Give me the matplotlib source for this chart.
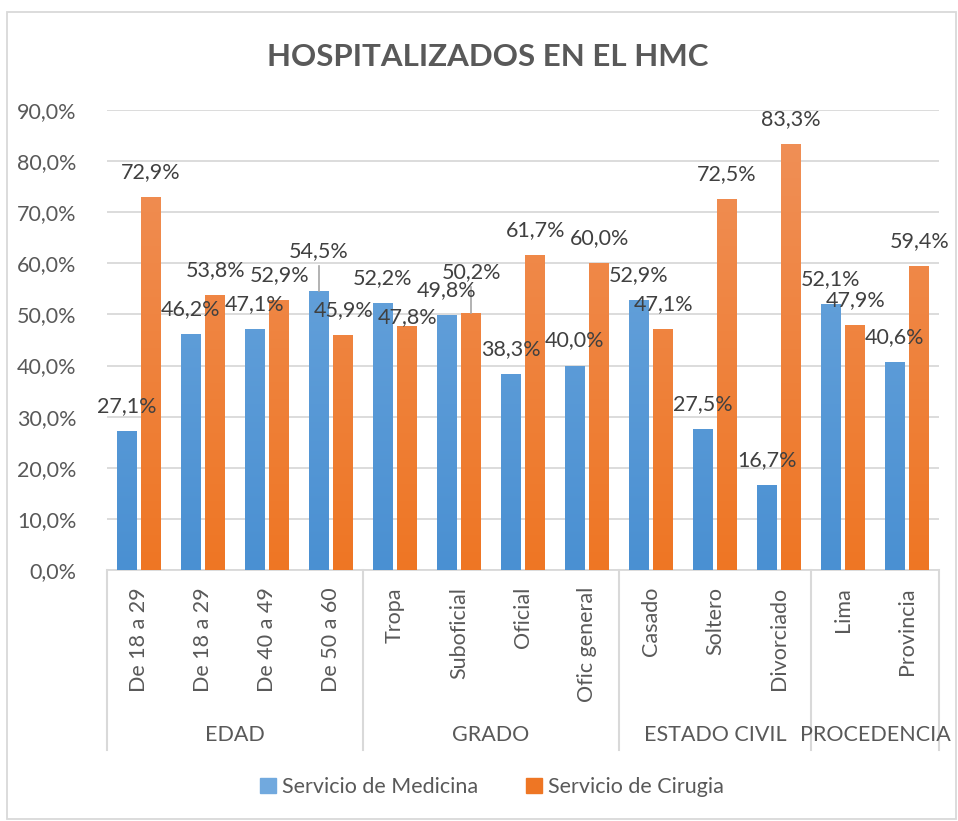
import numpy as np
import matplotlib
matplotlib.use("Agg")
import matplotlib.pyplot as plt
from matplotlib.colors import LinearSegmentedColormap
from matplotlib.lines import Line2D
from matplotlib.patches import Rectangle
import matplotlib.transforms as mtrans

plt.rcParams['font.family'] = ['Lato', 'DejaVu Sans']

# datos
categorias = ['De 18 a 29', 'De 18 a 29', 'De 40 a 49', 'De 50 a 60',
              'Tropa', 'Suboficial', 'Oficial', 'Ofic general',
              'Casado', 'Soltero', 'Divorciado',
              'Lima', 'Provincia']
grupos = ['EDAD', 'GRADO', 'ESTADO CIVIL', 'PROCEDENCIA']
tam_grupos = [4, 4, 3, 2]
medicina = [27.1, 46.2, 47.1, 54.5, 52.2, 49.8, 38.3, 40.0, 52.9, 27.5, 16.7, 52.1, 40.6]
cirugia = [72.9, 53.8, 52.9, 45.9, 47.8, 50.2, 61.7, 60.0, 47.1, 72.5, 83.3, 47.9, 59.4]
series = ['Servicio de Medicina', 'Servicio de Cirugia']
yticks = [0, 10, 20, 30, 40, 50, 60, 70, 80, 90]

# desplazamientos especiales de etiquetas (serie, indice) -> puntos
ajustes = {(0, 3): 29, (1, 5): 30, (1, 4): 6}
con_guia = {(0, 3), (1, 5)}

W, H = 958, 821
fig = plt.figure(figsize=(W / 100, H / 100), dpi=100)
ax = fig.add_axes([107 / W, 1 - 570 / H, 832 / W, 460 / H])

gris_txt = '#595959'
gris_lbl = '#404040'
gris_linea = '#D9D9D9'

x = np.arange(len(categorias))
ancho = 0.31
desp = 0.19
colores = [('#4A90D2', '#71A9DE'), ('#EE7624', '#F0915A')]

ax.set_xlim(-0.5, len(categorias) - 0.5)
ax.set_ylim(0, 90)

for s, (vals, (c_bajo, c_alto)) in enumerate(zip([medicina, cirugia], colores)):
    pos = x + (desp if s else -desp)
    bars = ax.bar(pos, vals, ancho, color=c_bajo, zorder=3, label=series[s])
    cmap = LinearSegmentedColormap.from_list('g%d' % s, [c_bajo, c_alto])
    grad = np.linspace(0, 1, 256).reshape(-1, 1)
    for b in bars:
        im = ax.imshow(grad, cmap=cmap, origin='lower', aspect='auto',
                       extent=(b.get_x(), b.get_x() + b.get_width(), 0, 90),
                       zorder=3.5)
        im.set_clip_path(b)
    for i, (px, v) in enumerate(zip(pos, vals)):
        off = ajustes.get((s, i), 18)
        ax.text(px, v, f'{v:.1f}%'.replace('.', ','), ha='center', va='center',
                fontsize=15.5, color=gris_lbl, zorder=5,
                transform=ax.transData + mtrans.ScaledTranslation(0, off / 72, fig.dpi_scale_trans))
        if (s, i) in con_guia:
            ax.plot([px, px], [v, v], color='#A6A6A6', lw=1.2, zorder=4, solid_capstyle='butt',
                    transform=ax.transData + mtrans.ScaledTranslation(0, 0, fig.dpi_scale_trans))
            ax.add_line(Line2D([0, 0], [0, (off - 11) / 72], color='#A6A6A6', lw=1.2, zorder=4,
                               transform=fig.dpi_scale_trans + mtrans.ScaledTranslation(
                                   *ax.transData.transform((px, v)) / fig.dpi, fig.dpi_scale_trans)))

ax.set_xlim(-0.5, len(categorias) - 0.5)
ax.set_ylim(0, 90)

ax.set_yticks(yticks)
ax.set_yticklabels([f'{t:.1f}%'.replace('.', ',') for t in yticks],
                   fontsize=15.5, color=gris_txt)
ax.tick_params(axis='y', length=0, pad=22)
ax.set_xticks([])
ax.grid(axis='y', color=gris_linea, lw=1.3, zorder=0)
ax.set_axisbelow(True)
for sp in ['top', 'right', 'left']:
    ax.spines[sp].set_visible(False)
ax.spines['bottom'].set_color(gris_linea)
ax.spines['bottom'].set_linewidth(1.3)

# etiquetas de categoria y grupos
tr = mtrans.blended_transform_factory(ax.transData, ax.transAxes)
for i, cat in enumerate(categorias):
    ax.text(i, -0.037, cat, transform=tr, rotation=90, ha='center', va='top',
            fontsize=15.5, color=gris_txt)

bordes = np.concatenate([[0], np.cumsum(tam_grupos)]) - 0.5
for b in bordes:
    ax.add_line(Line2D([b, b], [0, -0.391], transform=tr, color=gris_linea,
                       lw=1.5, clip_on=False))
for g, a, b in zip(grupos, bordes[:-1], bordes[1:]):
    ax.text((a + b) / 2, -0.359, g, transform=tr, ha='center', va='center',
            fontsize=15.5, color=gris_txt)

# titulo
fig.text(488 / W, 1 - 57 / H, 'HOSPITALIZADOS EN EL HMC', ha='center', va='center',
         fontsize=22.5, fontweight='bold', color=gris_txt)

# leyenda
handles = [Rectangle((0, 0), 1, 1, color=colores[0][1]),
           Rectangle((0, 0), 1, 1, color=colores[1][0])]
fig.legend(handles, series, loc='center', bbox_to_anchor=(492 / W, 1 - 787 / H),
           ncol=2, frameon=False, fontsize=15.5, labelcolor=gris_txt,
           handlelength=0.75, handleheight=0.75, handletextpad=0.3, columnspacing=2.2)

# borde del grafico
fig.add_artist(Rectangle((7 / W, 2 / H), (W - 9) / W, (H - 14) / H,
                         transform=fig.transFigure, fill=False,
                         edgecolor=gris_linea, lw=1.3))

fig.savefig('out.png', dpi=100, facecolor='white')
